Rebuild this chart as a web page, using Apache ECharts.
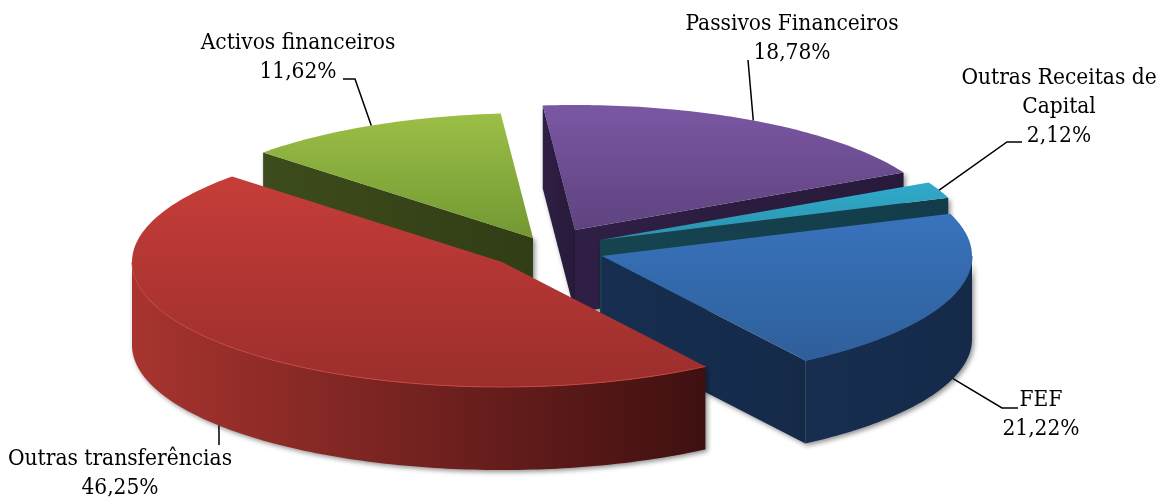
<!DOCTYPE html>
<html>
<head>
    <meta charset="utf-8">
    <title>Receitas</title>
    <script src="https://cdn.jsdelivr.net/npm/echarts@6/dist/echarts.min.js"></script>
    <style>
        body, html { margin: 0; padding: 0; height: 100%; overflow: hidden; background: #fff; }
        #main { width: 1157px; height: 497px; }
    </style>
</head>
<body>
    <div id="main"></div>
    <script>
        // data, clockwise from the back of the pie
        const names = ['Passivos Financeiros', 'Outras Receitas de\nCapital', 'FEF', 'Outras transferências', 'Activos financeiros'];
        const values = [18.78, 2.12, 21.22, 46.25, 11.62];

        // back slices get painted first
        const drawOrder = [0, 4, 1, 2, 3];

        // pie geometry
        const startAngle = -5;
        const rx = 370, ry = 125, depth = 83;
        const centres = [[575, 230], [600, 240], [602, 256], [502, 262], [533, 238]];

        // label block centre and leader elbow points
        const labelPos = [[792, 24], [1059, 78], [1041, 400], [120, 459], [298, 43]];
        const leaderElbow = [
            [[748, 60]],
            [[1007, 142], [1022, 142]],
            [[1002, 408], [1018, 408]],
            [[219, 445]],
            [[355, 79], [343, 79]]
        ];

        const topColors = [['#7a57a3', '#5f4380'], ['#31abcb', '#2a93ad'], ['#3873bd', '#2f5f9a'], ['#c63d39', '#9b2e2c'], ['#9bbf45', '#739833']];
        const wallColors = [['#2f1f45', '#281a3a'], ['#15444f', '#133c4a'], ['#172e50', '#152a49'], ['#a8342f', '#3f1010'], ['#3d4c1c', '#313d15']];
        const rimColors = ['#7a57a3', '#31abcb', '#2d5c96', '#c9443f', '#9bbf45'];

        const fontFamily = '"DejaVu Serif Condensed", "DejaVu Serif", serif';

        const rad = d => d * Math.PI / 180;
        const total = values.reduce((a, b) => a + b, 0);
        const starts = [];
        values.reduce((acc, v, i) => { starts[i] = acc; return acc + v / total * 360; }, startAngle);

        function rimPoint(c, deg) {
            return [c[0] + rx * Math.sin(rad(deg)), c[1] - ry * Math.cos(rad(deg))];
        }
        function arcPoints(c, a, b) {
            const pts = [];
            const n = Math.max(2, Math.ceil(Math.abs(b - a)));
            for (let i = 0; i <= n; i++) pts.push(rimPoint(c, a + (b - a) * i / n));
            return pts;
        }
        const down = p => [p[0], p[1] + depth];
        const vGrad = cs => new echarts.graphic.LinearGradient(0, 0, 0, 1, [{ offset: 0, color: cs[0] }, { offset: 1, color: cs[1] }]);
        const hGrad = cs => new echarts.graphic.LinearGradient(0, 0, 1, 0, [{ offset: 0, color: cs[0] }, { offset: 1, color: cs[1] }]);
        const shadow = { shadowColor: 'rgba(0,0,0,0.45)', shadowBlur: 5, shadowOffsetX: 2, shadowOffsetY: 2 };

        function renderSlice(params, api) {
            const i = api.value(0);
            const a = starts[i];
            const b = a + api.value(1) / total * 360;
            const c = centres[i];
            const children = [];
            const wall = pts => ({ type: 'polygon', shape: { points: pts }, style: Object.assign({ fill: hGrad(wallColors[i]) }, shadow) });

            // only faces turned to the viewer are drawn
            if (Math.sin(rad(a)) < 0) {
                const e = rimPoint(c, a);
                children.push(wall([c, e, down(e), down(c)]));
            }
            if (Math.sin(rad(b)) > 0) {
                const e = rimPoint(c, b);
                children.push(wall([c, e, down(e), down(c)]));
            }
            const from = Math.max(a, 90), to = Math.min(b, 270);
            if (to > from) {
                const arc = arcPoints(c, from, to);
                children.push(wall(arc.concat(arc.map(down).reverse())));
            }

            // top face
            const top = [c].concat(arcPoints(c, a, b));
            children.push({ type: 'polygon', shape: { points: top }, style: { fill: vGrad(topColors[i]) } });
            if (to > from) {
                children.push({ type: 'polyline', shape: { points: arcPoints(c, from, to) }, style: { fill: 'none', stroke: rimColors[i], lineWidth: 1 } });
            }

            // leader from the rim at the slice's middle angle
            const mid = (a + b) / 2;
            let anchor = rimPoint(c, mid);
            if (Math.cos(rad(mid)) < 0) anchor = down(anchor);
            children.push({ type: 'polyline', shape: { points: [anchor].concat(leaderElbow[i]) }, style: { fill: 'none', stroke: '#000', lineWidth: 1.5 } });

            // label
            const pct = api.value(1).toFixed(2).replace('.', ',') + '%';
            children.push({
                type: 'text',
                style: {
                    text: names[i] + '\n' + pct,
                    x: labelPos[i][0], y: labelPos[i][1] - 14,
                    align: 'center', verticalAlign: 'top',
                    font: '22.5px ' + fontFamily, lineHeight: 29, fill: '#000'
                }
            });
            return { type: 'group', children: children };
        }

        const chart = echarts.init(document.getElementById('main'));
        chart.setOption({
            animation: false,
            backgroundColor: '#fff',
            series: [{
                type: 'custom',
                coordinateSystem: 'none',
                renderItem: renderSlice,
                silent: true,
                encode: { value: [0, 1] },
                data: drawOrder.map(i => [i, values[i]])
            }]
        });
    </script>
</body>
</html>
